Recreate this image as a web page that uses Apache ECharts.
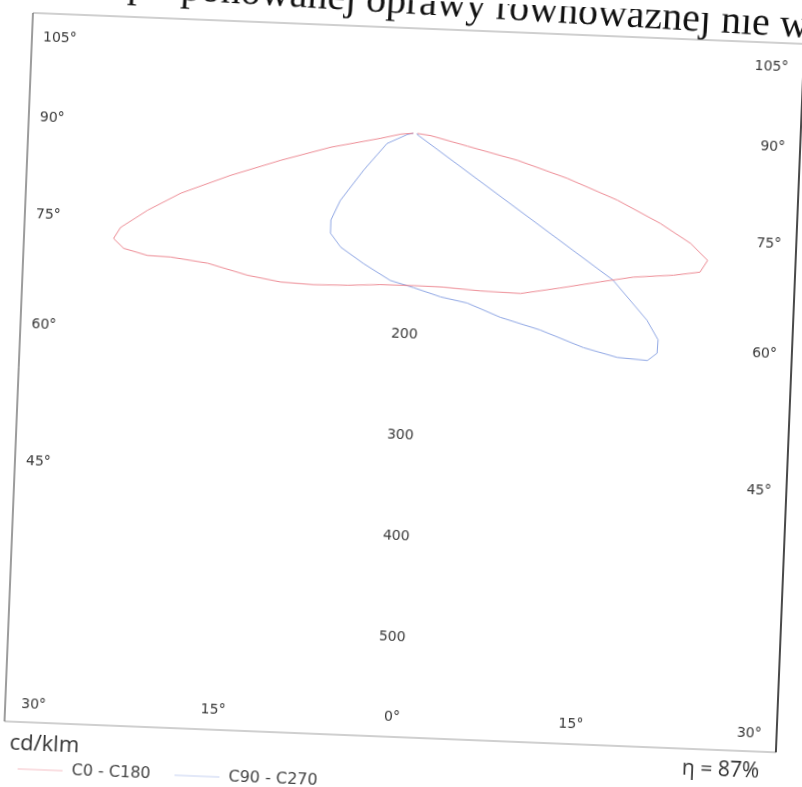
<!DOCTYPE html>
<html>
<head>
<meta charset="utf-8">
<script src="https://cdn.jsdelivr.net/npm/echarts@6/dist/echarts.min.js"></script>
<style>
html,body{margin:0;padding:0;width:802px;height:787px;overflow:hidden;background:#fff;}
#chart{position:absolute;left:0;top:0;width:802px;height:900px;transform:rotate(2.3deg);transform-origin:401px 393px;}
</style>
</head>
<body>
<div id="chart"></div>
<script>
// ---- data (gamma angle in degrees from nadir, negative = left half; intensity in cd/klm)
const seriesNames = ['C0 - C180', 'C90 - C270'];
const redAngles = [-90,-85,-79.6,-78.4,-76.4,-74.9,-73.4,-71.7,-70,-68.5,-66.2,-63.2,-60.9,-55.7,-47.5,-39.9,-31.7,-21.8,-10.8,1.6,12.6,24.7,35.6,45.4,53.5,58.9,63.5,66.3,68.8,70.5,72.1,74,75.8,77.5,78.5,84,90];
const redValues = [2,14,35,85,136,188,240,276,307,317,311,292,272,243,218,199,181,165,154,151,155,169,190,210,235,259,292,314,316,294,259,211,157,105,53,15,2];
const blueAngles = [-90,-80,-68,-52.3,-45.9,-42,-38.1,-31,-19.5,-7.4,1.6,11,19.3,27.1,34.7,40.4,44.3,47.9,50,51.9,53.4,55.7,60,90];
const blueValues = [2,8,30,63,100,120,130,135,139,148,153,164,176,201,231,270,299,322,324,316,295,244,2,2];
const radiusTickLabels = [200,300,400,500];
const sideAngleLabels = ['105°','90°','75°','60°','45°','30°'];
const bottomAngleLabels = ['15°','0°','15°'];
const unitText = 'cd/klm';
const efficiencyText = 'η = 87%';
const headerText = 'proponowanej oprawy równoważnej nie w';

// ---- layout (unrotated page coordinates)
const sideLabelY = [52,132,229,339,476,719];
const bottomLabelX = [226,405,584];
const FONT = '"DejaVu Sans", Verdana, sans-serif';
const LABEL_COLOR = '#3a3a3a';

function toPolar(angles, values){
  return angles.map((a,i)=>[values[i], a < 0 ? a + 360 : a]);
}

const chart = echarts.init(document.getElementById('chart'), null, {renderer:'canvas'});

const graphics = [];
// frame
graphics.push({type:'rect', shape:{x:18,y:28,width:772,height:709}, style:{fill:'none', stroke:'#a0a0a0', lineWidth:1}, silent:true});
graphics.push({type:'line', shape:{x1:18,y1:28,x2:18,y2:737}, style:{stroke:'#6a6a6a', lineWidth:1}, silent:true});
graphics.push({type:'line', shape:{x1:790,y1:28,x2:790,y2:737}, style:{stroke:'#1e1e1e', lineWidth:1.5}, silent:true});
// side angle labels
sideAngleLabels.forEach((t,i)=>{
  graphics.push({type:'text', style:{text:t, x: i===5?34:29, y:sideLabelY[i], font:'14px '+FONT, fill:LABEL_COLOR, textAlign:'left', textVerticalAlign:'middle'}, silent:true});
  graphics.push({type:'text', style:{text:t, x:775, y:sideLabelY[i], font:'14px '+FONT, fill:LABEL_COLOR, textAlign:'right', textVerticalAlign:'middle'}, silent:true});
});
bottomAngleLabels.forEach((t,i)=>{
  graphics.push({type:'text', style:{text:t, x:bottomLabelX[i], y:717, font:'14px '+FONT, fill:LABEL_COLOR, textAlign:'center', textVerticalAlign:'middle'}, silent:true});
});
// unit + efficiency
graphics.push({type:'text', style:{text:unitText, x:24, y:759, font:'22px "Open Sans", sans-serif', fill:'#333', textAlign:'left', textVerticalAlign:'middle'}, silent:true});
graphics.push({type:'text', style:{text:efficiencyText, x:774, y:757, font:'21px "Open Sans", sans-serif', fill:'#333', textAlign:'right', textVerticalAlign:'middle'}, silent:true});
// document header (scanned, cut at the top, slightly more skewed than the chart)
graphics.push({type:'text', x:794, y:-9, rotation:-0.02, style:{text:headerText, x:0, y:0, font:'40px "Liberation Serif", "Times New Roman", serif', fill:'#111', textAlign:'right', textVerticalAlign:'top'}, silent:true});

const option = {
  backgroundColor:'#fff',
  animation:false,
  polar:{center:[405,133], radius:605},
  angleAxis:{type:'value', min:0, max:360, startAngle:270, clockwise:false, show:false},
  radiusAxis:{
    type:'value', min:0, max:600, interval:100,
    axisLine:{show:false}, axisTick:{show:false}, splitLine:{show:false},
    axisLabel:{
      margin:0, align:'center', verticalAlign:'middle', rotate:0, padding:[0,6,0,0],
      fontFamily:FONT, fontSize:14, color:LABEL_COLOR,
      formatter:v=> radiusTickLabels.includes(v) ? String(v) : ''
    }
  },
  legend:{
    data:seriesNames, left:28, top:771, icon:'rect', itemWidth:45, itemHeight:1, itemGap:24,
    itemStyle:{opacity:0.45},
    textStyle:{fontFamily:FONT, fontSize:16, color:'#444', padding:[0,0,0,4]}
  },
  series:[
    {name:seriesNames[0], type:'line', coordinateSystem:'polar', data:toPolar(redAngles, redValues),
     showSymbol:false, symbol:'none', lineStyle:{color:'#e8707c', width:1, opacity:0.8}, itemStyle:{color:'#e8707c'}, z:3},
    {name:seriesNames[1], type:'line', coordinateSystem:'polar', data:toPolar(blueAngles, blueValues),
     showSymbol:false, symbol:'none', lineStyle:{color:'#7c98df', width:1, opacity:0.85}, itemStyle:{color:'#7c98df'}, z:2}
  ],
  graphic:{elements:graphics}
};
chart.setOption(option);
</script>
</body>
</html>
